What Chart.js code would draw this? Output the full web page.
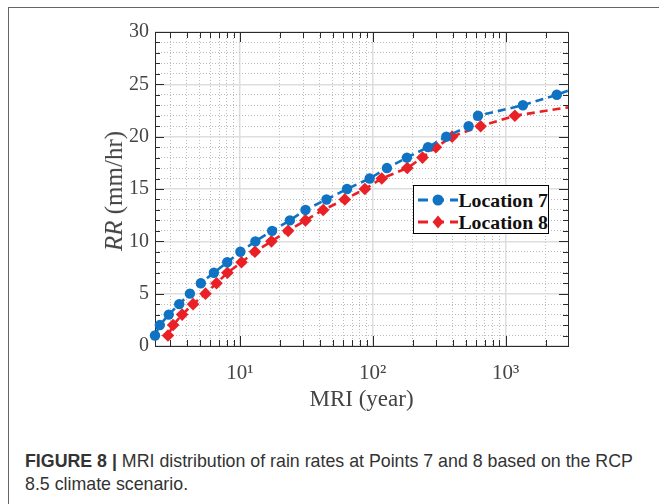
<!DOCTYPE html>
<html>
<head>
<meta charset="utf-8">
<script src="https://cdn.jsdelivr.net/npm/chart.js@4.4.0/dist/chart.umd.min.js"></script>
<style>
  body { margin: 0; background: #fff; width: 659px; height: 504px; overflow: hidden; position: relative; }
  #frame { position: absolute; left: 8px; top: 7px; width: 660px; height: 510px; border-left: 1px solid #666; border-top: 1px solid #666; }
  #wrap { position: absolute; left: 0; top: 0; width: 659px; height: 420px; }
  #ytitle { position: absolute; left: 114px; top: 191px; transform: translate(-50%, -50%) rotate(-90deg);
    font: 25px "Liberation Serif"; color: #444; white-space: nowrap; }
  #legend { position: absolute; left: 413px; top: 185px; width: 136px; height: 49px; border: 1px solid #000;
    background: #fff; box-sizing: border-box; padding-top: 3px; padding-left: 2px; }
  .row { display: flex; align-items: center; height: 22px; white-space: nowrap; }
  .row span { font: bold 19.8px "Liberation Serif"; color: #111; margin-left: 0; }
  #caption { position: absolute; left: 25px; top: 450px; width: 625px; font: 17.8px "Liberation Sans";
    color: #333; line-height: 23px; }
</style>
</head>
<body>
<div id="frame"></div>
<div id="wrap"><canvas id="myChart" width="659" height="420"></canvas></div>
<div id="ytitle"><i>RR</i> (mm/hr)</div>
<div id="legend"></div>
<div id="caption"><b>FIGURE 8 |</b> MRI distribution of rain rates at Points 7 and 8 based on the RCP 8.5 climate scenario.</div>
<script>
const seriesNames = ["Location 7", "Location 8"];
const seriesColors = ["#0f72c3", "#ea2027"];

// Location 7: MRI (year) and rain rate (mm/hr), last entry is the line end without marker
const mri7 = [2.30, 2.50, 2.92, 3.50, 4.21, 5.09, 6.38, 8.04, 10.1, 13.1, 17.5, 23.8, 31.2, 44.9, 64.1,
  94.9, 128, 181, 261, 358, 527, 620, 1350, 2430, 2950];
const rr7 = [1, 2, 3, 4, 5, 6, 7, 8, 9, 10, 11, 12, 13, 14, 15, 16, 17, 18, 19, 20, 21, 22, 23, 24, 24.4];

// Location 8
const mri8 = [2.88, 3.15, 3.68, 4.45, 5.52, 6.68, 8.07, 10.3, 13.0, 17.3, 23.1, 31.2, 42.4, 61.7, 87.3,
  117, 182, 237, 299, 396, 649, 1175, 2950];
const rr8 = [1, 2, 3, 4, 5, 6, 7, 8, 9, 10, 11, 12, 13, 14, 15, 16, 17, 18, 19, 20, 21, 22, 22.8];

const xTicks = [3, 4, 5, 6, 7, 8, 9, 10, 20, 30, 40, 50, 60, 70, 80, 90, 100,
  200, 300, 400, 500, 600, 700, 800, 900, 1000, 2000];
const xMajorLabels = {10: "10\u00b9", 100: "10\u00b2", 1000: "10\u00b3"};

const xMin = 2.3, xMax = 2950;
const yMin = 0, yMax = 30;

function isMajorX(v){ return xMajorLabels[v] !== undefined; }
function isMajorY(v){ return v % 5 === 0; }

function toPoints(xs, ys){
  return xs.map((x, i) => ({x: x, y: ys[i]}));
}

function markerSizes(n, r){
  const sizes = new Array(n).fill(r);
  sizes[n - 1] = 0;
  return sizes;
}

// inward tick marks and the box round the plot
const boxTicks = {
  id: "boxTicks",
  beforeDatasetsDraw(chart){
    const {ctx, chartArea: a, scales} = chart;
    ctx.save();
    ctx.strokeStyle = "#2a2a2a";
    ctx.lineWidth = 1;
    ctx.beginPath();
    xTicks.forEach(v => {
      const px = Math.round(scales.x.getPixelForValue(v)) + 0.5;
      const len = isMajorX(v) ? 10 : 6;
      ctx.moveTo(px, a.bottom); ctx.lineTo(px, a.bottom - len);
      ctx.moveTo(px, a.top); ctx.lineTo(px, a.top + len);
    });
    for(let v = yMin + 1; v < yMax; v++){
      const py = Math.round(scales.y.getPixelForValue(v)) + 0.5;
      const len = isMajorY(v) ? 9 : 5;
      ctx.moveTo(a.left, py); ctx.lineTo(a.left + len, py);
      ctx.moveTo(a.right, py); ctx.lineTo(a.right - len, py);
    }
    ctx.stroke();
    ctx.strokeRect(Math.round(a.left) + 0.5, Math.round(a.top) + 0.5,
      Math.round(a.right - a.left), Math.round(a.bottom - a.top));
    ctx.restore();
  }
};

const ctx = document.getElementById("myChart");
const chart = new Chart(ctx, {
  type: "line",
  data: {
    datasets: [
      {
        label: seriesNames[0],
        data: toPoints(mri7, rr7),
        borderColor: seriesColors[0],
        backgroundColor: seriesColors[0],
        borderWidth: 2.6,
        borderDash: [8, 5],
        pointStyle: "circle",
        pointRadius: markerSizes(mri7.length, 5.2),
        pointBorderWidth: 0,
        clip: false
      },
      {
        label: seriesNames[1],
        data: toPoints(mri8, rr8),
        borderColor: seriesColors[1],
        backgroundColor: seriesColors[1],
        borderWidth: 2.6,
        borderDash: [8, 5],
        pointStyle: "rectRot",
        pointRadius: markerSizes(mri8.length, 6.3),
        pointBorderWidth: 0,
        clip: false
      }
    ]
  },
  options: {
    responsive: false,
    animation: false,
    layout: { padding: { left: 0, top: 32, right: 91, bottom: 0 } },
    plugins: { legend: { display: false }, tooltip: { enabled: false } },
    scales: {
      x: {
        type: "logarithmic",
        min: xMin,
        max: xMax,
        afterBuildTicks: scale => { scale.ticks = xTicks.map(v => ({value: v})); },
        afterFit: scale => { scale.height = 74; },
        ticks: {
          autoSkip: false,
          maxRotation: 0,
          padding: 15,
          color: "#444",
          font: { family: "Liberation Serif", size: 21 },
          callback: v => xMajorLabels[v] || ""
        },
        grid: {
          drawTicks: false,
          color: c => isMajorX(c.tick.value) ? "#dedede" : "#bcbcbc",
          lineWidth: c => isMajorX(c.tick.value) ? 1.5 : 1
        },
        border: {
          display: false,
          dash: c => (c.tick && !isMajorX(c.tick.value)) ? [1, 2] : []
        },
        title: {
          display: true,
          text: "MRI (year)",
          color: "#444",
          font: { family: "Liberation Serif", size: 23 },
          padding: { top: 0, bottom: 6 }
        }
      },
      y: {
        min: yMin,
        max: yMax,
        afterFit: scale => { scale.width = 155; },
        ticks: {
          stepSize: 1,
          autoSkip: false,
          padding: 6,
          color: "#444",
          font: { family: "Liberation Serif", size: 20 },
          callback: v => isMajorY(v) ? v : ""
        },
        grid: {
          drawTicks: false,
          color: c => isMajorY(c.tick.value) ? "#dedede" : "#bcbcbc",
          lineWidth: c => isMajorY(c.tick.value) ? 1.5 : 1
        },
        border: {
          display: false,
          dash: c => (c.tick && !isMajorY(c.tick.value)) ? [1, 2] : []
        }
      }
    }
  },
  plugins: [boxTicks]
});

// html legend built from the datasets
const legend = document.getElementById("legend");
chart.data.datasets.forEach(ds => {
  const row = document.createElement("div");
  row.classList.add("row");
  const marker = ds.pointStyle === "circle"
    ? `<circle cx="22" cy="10" r="5.5" fill="${ds.borderColor}"/>`
    : `<polygon points="22,3.5 27.5,10 22,16.5 16.5,10" fill="${ds.borderColor}"/>`;
  row.innerHTML = `<svg width="46" height="20"><line x1="2" y1="10" x2="45" y2="10" stroke="${ds.borderColor}" stroke-width="3" stroke-dasharray="10,6"/>${marker}</svg><span>${ds.label}</span>`;
  legend.append(row);
});
</script>
</body>
</html>
